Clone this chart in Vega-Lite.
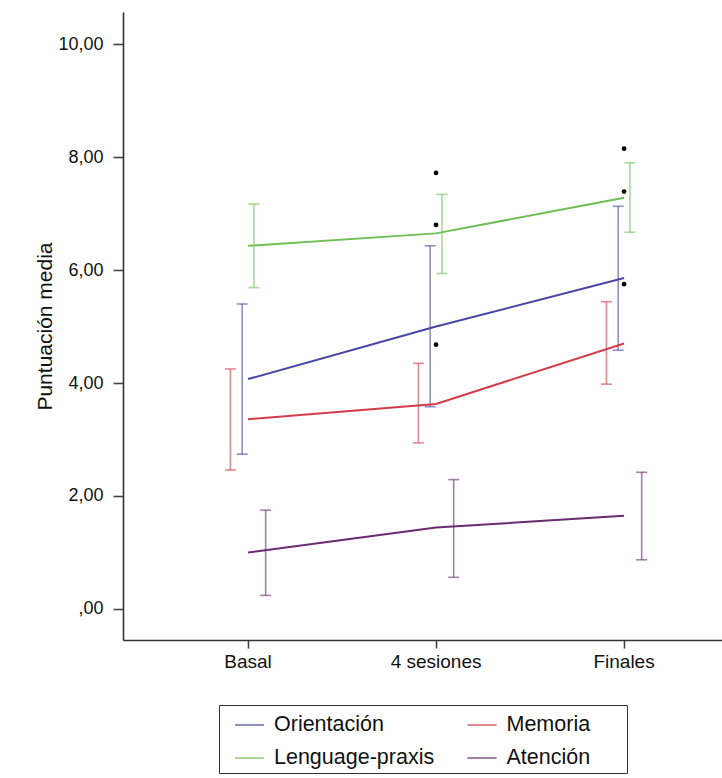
{
  "$schema": "https://vega.github.io/schema/vega-lite/v6.json",
  "width": 599,
  "height": 628,
  "autosize": {"type": "none"},
  "padding": {"left": 123, "top": 12, "right": 0, "bottom": 138},
  "background": "white",
  "datasets": {
    "medias": [
      {"tiempo": "Basal", "area": "Orientación", "media": 4.07, "inf": 2.74, "sup": 5.40},
      {"tiempo": "4 sesiones", "area": "Orientación", "media": 5.0, "inf": 3.58, "sup": 6.43},
      {"tiempo": "Finales", "area": "Orientación", "media": 5.86, "inf": 4.58, "sup": 7.13},
      {"tiempo": "Basal", "area": "Memoria", "media": 3.36, "inf": 2.46, "sup": 4.25},
      {"tiempo": "4 sesiones", "area": "Memoria", "media": 3.63, "inf": 2.94, "sup": 4.35},
      {"tiempo": "Finales", "area": "Memoria", "media": 4.70, "inf": 3.98, "sup": 5.44},
      {"tiempo": "Basal", "area": "Lenguage-praxis", "media": 6.43, "inf": 5.69, "sup": 7.17},
      {"tiempo": "4 sesiones", "area": "Lenguage-praxis", "media": 6.65, "inf": 5.94, "sup": 7.34},
      {"tiempo": "Finales", "area": "Lenguage-praxis", "media": 7.28, "inf": 6.67, "sup": 7.90},
      {"tiempo": "Basal", "area": "Atención", "media": 1.0, "inf": 0.24, "sup": 1.75},
      {"tiempo": "4 sesiones", "area": "Atención", "media": 1.44, "inf": 0.56, "sup": 2.29},
      {"tiempo": "Finales", "area": "Atención", "media": 1.65, "inf": 0.87, "sup": 2.42}
    ],
    "significativos": [
      {"tiempo": "4 sesiones", "valor": 7.72},
      {"tiempo": "4 sesiones", "valor": 6.80},
      {"tiempo": "4 sesiones", "valor": 4.68},
      {"tiempo": "Finales", "valor": 8.15},
      {"tiempo": "Finales", "valor": 7.39},
      {"tiempo": "Finales", "valor": 5.75}
    ]
  },
  "config": {
    "font": "Liberation Sans",
    "view": {"stroke": null},
    "axis": {
      "grid": false,
      "domainColor": "#333333",
      "domainWidth": 1.6,
      "tickColor": "#444444",
      "tickWidth": 1.6,
      "labelColor": "#111111",
      "titleColor": "#111111",
      "labelFont": "Liberation Sans",
      "titleFont": "Liberation Sans"
    }
  },
  "encoding": {
    "x": {
      "field": "tiempo",
      "type": "nominal",
      "sort": ["Basal", "4 sesiones", "Finales"],
      "scale": {
        "domain": ["Basal", "4 sesiones", "Finales"],
        "paddingInner": 0.75,
        "paddingOuter": 0.468,
        "align": 0.577
      },
      "axis": {
        "title": null,
        "labelAngle": 0,
        "labelFontSize": 19,
        "tickSize": 8,
        "labelPadding": 4,
        "bandPosition": 0.5
      }
    }
  },
  "layer": [
    {
      "data": {"name": "medias"},
      "mark": {"type": "rule", "strokeWidth": 1.6, "opacity": 0.6},
      "encoding": {
        "xOffset": {
          "field": "area",
          "type": "nominal",
          "scale": {"domain": ["Memoria", "Orientación", "Lenguage-praxis", "Atención"]}
        },
        "y": {"field": "inf", "type": "quantitative"},
        "y2": {"field": "sup"},
        "color": {"field": "area", "type": "nominal"}
      }
    },
    {
      "data": {"name": "medias"},
      "mark": {"type": "tick", "size": 11, "thickness": 1.6, "opacity": 0.6},
      "encoding": {
        "xOffset": {"field": "area", "type": "nominal"},
        "y": {"field": "inf", "type": "quantitative"},
        "color": {"field": "area", "type": "nominal"}
      }
    },
    {
      "data": {"name": "medias"},
      "mark": {"type": "tick", "size": 11, "thickness": 1.6, "opacity": 0.6},
      "encoding": {
        "xOffset": {"field": "area", "type": "nominal"},
        "y": {"field": "sup", "type": "quantitative"},
        "color": {"field": "area", "type": "nominal"}
      }
    },
    {
      "data": {"name": "medias"},
      "mark": {"type": "line", "strokeWidth": 2},
      "encoding": {
        "y": {
          "field": "media",
          "type": "quantitative",
          "scale": {"domain": [-0.55, 10.57], "nice": false, "zero": false},
          "axis": {
            "title": "Puntuación media",
            "titleFontSize": 21,
            "titleFontWeight": "normal",
            "titlePadding": 2,
            "values": [0, 2, 4, 6, 8, 10],
            "labelExpr": "datum.value == 0 ? ',00' : replace(format(datum.value, '.2f'), '.', ',')",
            "labelFontSize": 18,
            "tickSize": 10,
            "labelPadding": 10
          }
        },
        "color": {
          "field": "area",
          "type": "nominal",
          "scale": {
            "domain": ["Orientación", "Memoria", "Lenguage-praxis", "Atención"],
            "range": ["#4646a6", "#d23c48", "#6fbf55", "#6a2a70"]
          },
          "legend": {
            "title": "\u00a0",
            "titleOrient": "right",
            "titlePadding": 32,
            "titleFontSize": 4,
            "orient": "none",
            "direction": "horizontal",
            "legendX": 96,
            "legendY": 693,
            "columns": 2,
            "columnPadding": 21.5,
            "rowPadding": 7,
            "padding": 4.5,
            "symbolOffset": 10.5,
            "symbolType": "stroke",
            "symbolSize": 841,
            "symbolStrokeWidth": 2,
            "labelOffset": 9,
            "labelFontSize": 21.5,
            "labelLimit": 400,
            "labelColor": "#111111",
            "strokeColor": "#333333"
          }
        }
      }
    },
    {
      "data": {"name": "significativos"},
      "mark": {"type": "point", "filled": true, "color": "#000000", "size": 22, "opacity": 1},
      "encoding": {
        "y": {"field": "valor", "type": "quantitative"}
      }
    }
  ]
}
